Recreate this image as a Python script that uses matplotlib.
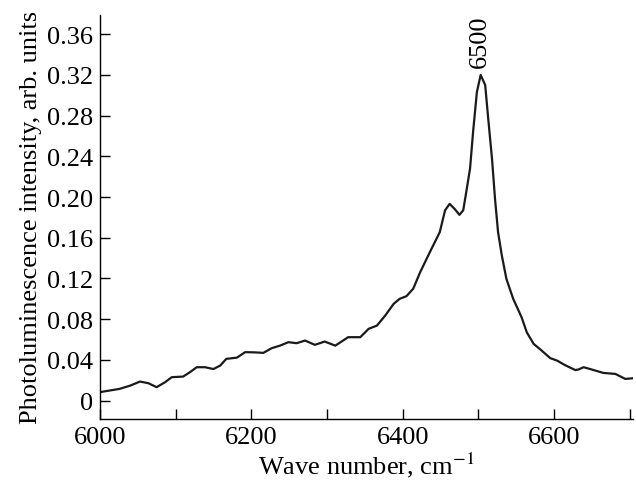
import matplotlib.pyplot as plt
from matplotlib.ticker import FixedLocator

plt.rcParams['font.family'] = ['Liberation Serif', 'DejaVu Serif']
plt.rcParams['mathtext.fontset'] = 'stix'

# spectrum
wave = [6000, 6026, 6040, 6053, 6064, 6075, 6086, 6095, 6110, 6119, 6128, 6139,
        6150, 6159, 6167, 6181, 6192, 6204, 6216, 6227, 6238, 6249, 6260, 6271,
        6284, 6297, 6311, 6328, 6344, 6355, 6366, 6377, 6388, 6396, 6405, 6414,
        6423, 6436, 6449, 6456, 6462, 6469, 6475, 6480, 6484, 6489, 6493, 6498,
        6503, 6509, 6513, 6518, 6522, 6526, 6531, 6537, 6546, 6557, 6564, 6573,
        6581, 6595, 6604, 6614, 6628, 6632, 6639, 6650, 6665, 6681, 6694, 6705]
intensity = [0.0083, 0.0115, 0.0147, 0.0187, 0.0171, 0.0132, 0.018, 0.023, 0.0236, 0.0279, 0.0328, 0.0328,
             0.031, 0.0344, 0.041, 0.0422, 0.0476, 0.0474, 0.0469, 0.0515, 0.054, 0.0574, 0.0564, 0.059,
             0.0548, 0.058, 0.054, 0.0623, 0.0623, 0.0705, 0.0737, 0.0836, 0.095, 0.100, 0.1026, 0.110,
             0.126, 0.146, 0.1655, 0.187, 0.1933, 0.188, 0.1825, 0.187, 0.205, 0.228, 0.264, 0.303,
             0.320, 0.310, 0.277, 0.2376, 0.198, 0.1655, 0.1425, 0.1196, 0.100, 0.082, 0.067, 0.0557,
             0.0508, 0.0417, 0.0393, 0.035, 0.030, 0.0305, 0.0328, 0.0305, 0.0272, 0.0262, 0.0213, 0.022]

y_ticks = [0, 0.04, 0.08, 0.12, 0.16, 0.20, 0.24, 0.28, 0.32, 0.36]
y_labels = ['0', '0.04', '0.08', '0.12', '0.16', '0.20', '0.24', '0.28', '0.32', '0.36']
x_ticks = [6000, 6200, 6400, 6600]
x_minor = [6100, 6300, 6500, 6700]

fig = plt.figure(figsize=(6.36, 4.81), dpi=100)
ax = fig.add_axes([0.157, 0.127, 0.838, 0.84])
ax.plot(wave, intensity, color='#1a1a1a', lw=1.6, solid_joinstyle='round')

ax.set_xlim(6000, 6704)
ax.set_ylim(-0.018, 0.379)
ax.set_xticks(x_ticks)
ax.xaxis.set_minor_locator(FixedLocator(x_minor))
ax.set_yticks(y_ticks)
ax.set_yticklabels(y_labels)
ax.tick_params(which='both', direction='in', length=7, width=1, labelsize=19, pad=5)

for s in ['top', 'right']:
    ax.spines[s].set_visible(False)
for s in ['left', 'bottom']:
    ax.spines[s].set_linewidth(1)

ax.set_xlabel('Wave number, cm$^{-1}$', fontsize=19, labelpad=1)
ax.set_ylabel('Photoluminescence intensity, arb. units', fontsize=19, labelpad=3)

ax.annotate('6500', xy=(6502, 0.328), rotation=90, ha='center', va='bottom', fontsize=19)

fig.savefig('out.png', dpi=100)
